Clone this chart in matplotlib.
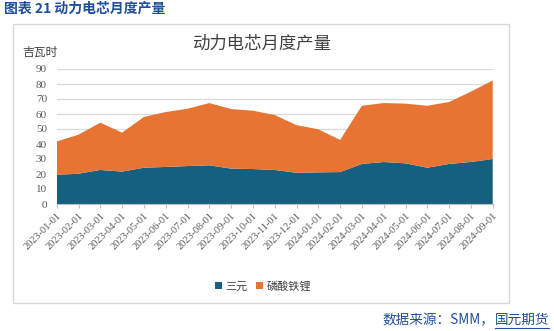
import numpy as np
import matplotlib.pyplot as plt
from matplotlib.patches import Rectangle
from matplotlib.lines import Line2D

plt.rcParams['font.family'] = ['Noto Sans CJK SC', 'DejaVu Sans']

months = ['2023-01-01', '2023-02-01', '2023-03-01', '2023-04-01', '2023-05-01',
          '2023-06-01', '2023-07-01', '2023-08-01', '2023-09-01', '2023-10-01',
          '2023-11-01', '2023-12-01', '2024-01-01', '2024-02-01', '2024-03-01',
          '2024-04-01', '2024-05-01', '2024-06-01', '2024-07-01', '2024-08-01',
          '2024-09-01']
ternary = [19.4, 20.2, 22.7, 21.6, 24.2, 24.7, 25.3, 25.8, 23.6, 23.3, 22.7,
           20.8, 21.1, 21.3, 26.7, 28.0, 27.1, 24.2, 26.7, 28.0, 30.0]
lfp = [22.3, 26.0, 31.5, 26.0, 33.8, 36.6, 38.2, 41.5, 39.7, 38.9, 36.6,
       31.8, 28.7, 21.4, 38.8, 39.3, 39.8, 41.3, 41.3, 46.9, 52.4]
yticks = list(range(0, 91, 10))

blue = '#155F80'
orange = '#E87433'
title_blue = '#1F4E9A'
tick_grey = '#595959'

fig = plt.figure(figsize=(5.54, 3.31), dpi=100)
W, H = 554, 331

# outer frame of the chart block
fig.patches.append(Rectangle((13 / W, 1 - 303 / H), 496 / W, 279 / H,
                             transform=fig.transFigure, fill=False,
                             edgecolor='#D9D9D9', linewidth=1.0))

ax = fig.add_axes([56.7 / W, 1 - 204 / H, 436 / W, 135 / H])
x = np.arange(len(months))
ax.stackplot(x, ternary, lfp, colors=[blue, orange], labels=['三元', '磷酸铁锂'],
             linewidth=0)

ax.set_xlim(0, len(months) - 1)
ax.set_ylim(0, 90)
ax.set_yticks(yticks)
ax.set_yticklabels([str(v) for v in yticks], fontsize=8, color=tick_grey,
                   fontfamily='Liberation Serif')
ax.set_xticks(x)
ax.set_xticklabels(months, rotation=45, ha='right', rotation_mode='anchor',
                   fontsize=7.5, color=tick_grey, fontfamily='Liberation Serif')
ax.tick_params(axis='y', length=0, pad=7)
ax.tick_params(axis='x', length=3, color='#BFBFBF', pad=2)
ax.grid(axis='y', color='#D9D9D9', linewidth=0.9)
ax.set_axisbelow(True)
for side in ['left', 'right', 'top']:
    ax.spines[side].set_visible(False)
ax.spines['bottom'].set_color('#BFBFBF')
ax.spines['bottom'].set_zorder(5)

fig.text(262 / W, 1 - 44 / H, '动力电芯月度产量', ha='center', va='center',
         fontsize=12.5, color='#404040')
fig.text(22 / W, 1 - 52 / H, '吉瓦时', ha='left', va='center',
         fontsize=8.5, color='#404040')
fig.text(4 / W, 1 - 9 / H, '图表 21 动力电芯月度产量', ha='left', va='center',
         fontsize=10, color=title_blue, fontweight='bold')

ax.legend(loc='center', bbox_to_anchor=(263 / W, 1 - 286 / H),
          bbox_transform=fig.transFigure, ncol=2, frameon=False, fontsize=8,
          handlelength=0.6, handleheight=0.6, handletextpad=0.3,
          columnspacing=0.8, labelcolor='#404040')

# source note, company name underlined
fig.canvas.draw()
r = fig.canvas.get_renderer()
t2 = fig.text(549 / W, 1 - 320 / H, '国元期货', ha='right', va='center',
              fontsize=9.8, color=title_blue)
bb = t2.get_window_extent(r)
fig.text(bb.x0 / W, 1 - 320 / H, '数据来源：SMM，', ha='right', va='center',
         fontsize=9.8, color=title_blue)
fig.lines.append(Line2D([bb.x0 / W, bb.x1 / W], [(bb.y0 - 1) / H] * 2,
                        transform=fig.transFigure, color=title_blue,
                        linewidth=0.8))

fig.savefig('out.png', dpi=100)
